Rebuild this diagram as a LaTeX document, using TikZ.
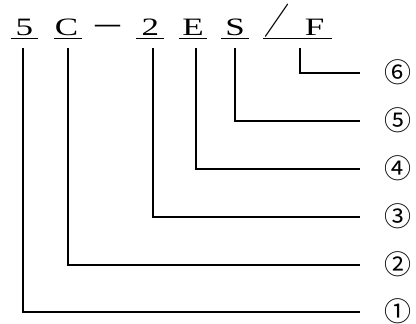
\documentclass[tikz,border=0pt]{standalone}
\usepackage{fontspec}
\setmainfont{Liberation Serif}
\newfontfamily\cjk{Noto Sans CJK JP}
\begin{document}
\begin{tikzpicture}[x=1pt,y=-1pt,
  code/.style={inner sep=0pt, minimum width=27.5pt, text height=17pt, text depth=3.5pt, anchor=base, font=\fontsize{25}{28}\selectfont},
  uline/.style={line width=1.1pt},
  lead/.style={line width=1.2pt},
  num/.style={inner sep=0pt, anchor=center, font=\cjk\fontsize{27}{29}\selectfont}]
\useasboundingbox (0,0) rectangle (416,324);
% code characters
\node[code] (c5) at (24.5,35) {\scalebox{1.4}[1]{5}};
\node[code] (cc) at (68,35) {\hspace*{-3pt}\scalebox{1.4}[1]{C}};
\node[code] (cd) at (108.3,35) {\cjk\scalebox{1.4}[1]{－}};
\node[code] (c2) at (150.3,35) {\scalebox{1.4}[1]{2}};
\node[code] (ce) at (193,35) {\scalebox{1.4}[1]{E}};
\node[code] (cs) at (235,35) {\scalebox{1.4}[1]{S}};
\node[code] (cl) at (277,35) {\cjk\raisebox{1pt}{\scalebox{1}[1.45]{／}}};
\node[code] (cf) at (318,35) {\hspace*{-7pt}\scalebox{1.4}[1]{F}};
% underlines
\foreach \n in {c5,cc,c2,ce,cs}
  \draw[uline] (\n.south west) -- (\n.south east);
\draw[uline] (cl.south west) -- (cf.south east);
% circled numbers
\node[num] (n1) at (398,311.5) {①};
\node[num] (n2) at (398,264.5) {②};
\node[num] (n3) at (398,216.5) {③};
\node[num] (n4) at (398,168.5) {④};
\node[num] (n5) at (398,120.5) {⑤};
\node[num] (n6) at (398,72.5) {⑥};
% leaders
\draw[lead] ([xshift=-1.5pt,yshift=-9.5pt]c5.south) |- ([xshift=-38pt,yshift=-0.5pt]n1.center);
\draw[lead] ([xshift=0pt,yshift=-9.5pt]cc.south) |- ([xshift=-38pt,yshift=-0.5pt]n2.center);
\draw[lead] ([xshift=2.7pt,yshift=-9.5pt]c2.south) |- ([xshift=-38pt,yshift=-0.5pt]n3.center);
\draw[lead] ([xshift=3pt,yshift=-9.5pt]ce.south) |- ([xshift=-38pt,yshift=-0.5pt]n4.center);
\draw[lead] ([xshift=0pt,yshift=-9.5pt]cs.south) |- ([xshift=-38pt,yshift=-0.5pt]n5.center);
\draw[lead] ([xshift=-18pt,yshift=-9.5pt]cf.south) |- ([xshift=-38pt,yshift=-0.5pt]n6.center);
\end{tikzpicture}
\end{document}
